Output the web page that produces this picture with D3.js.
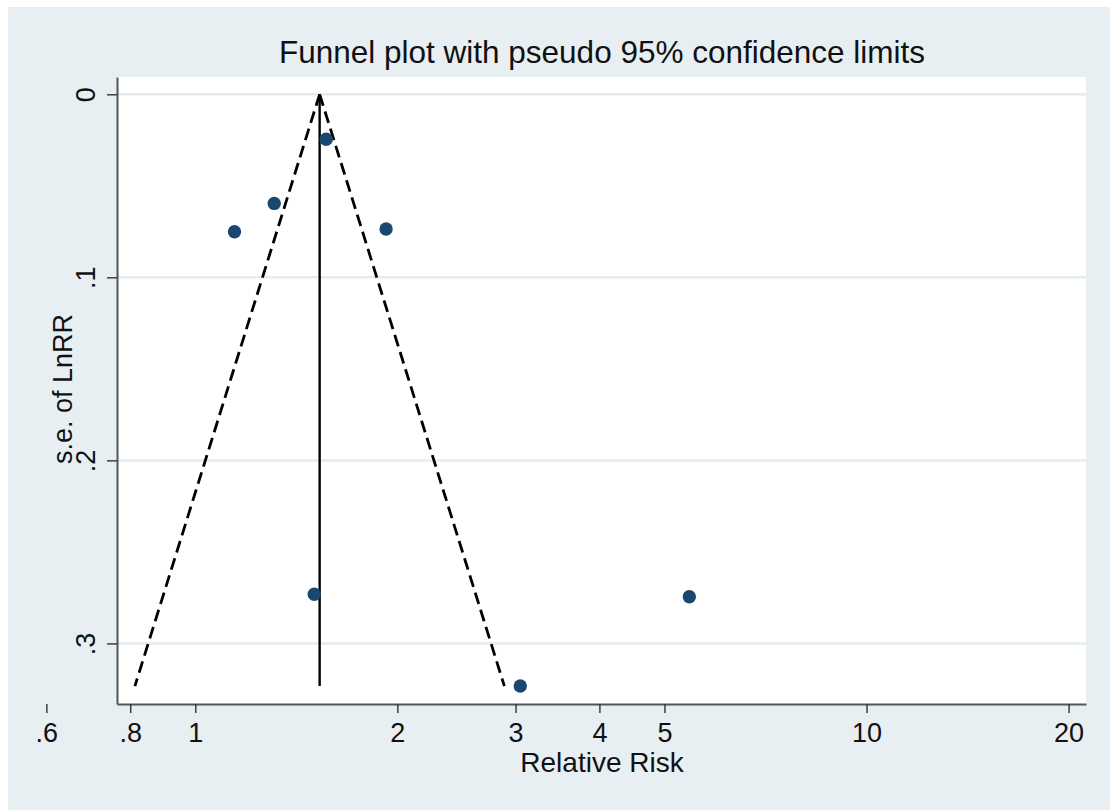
<!DOCTYPE html>
<html>
<head>
<meta charset="utf-8">
<script src="https://cdn.jsdelivr.net/npm/d3@7"></script>
<style>
  html, body { margin: 0; padding: 0; background: #ffffff; }
  svg { display: block; }
  text { font-family: "Liberation Sans", Arial, sans-serif; fill: #111; }
</style>
</head>
<body>
<svg id="chart" width="1110" height="810"></svg>
<script>
// Study estimates: relative risk and standard error of ln(RR)
const studyRR = [1.144, 1.311, 1.567, 1.924, 1.504, 5.445, 3.049];
const studySE = [0.0751, 0.0596, 0.0246, 0.0736, 0.2731, 0.2745, 0.3233];

// Pooled estimate and pseudo 95% limits
const pooledRR = 1.532;
const zValue = 1.96;

// Axis ticks
const xTickValues = [0.6, 0.8, 1, 2, 3, 4, 5, 10, 20];
const xTickLabels = [".6", ".8", "1", "2", "3", "4", "5", "10", "20"];
const yTickValues = [0, 0.1, 0.2, 0.3];
const yTickLabels = ["0", ".1", ".2", ".3"];

const titleText = "Funnel plot with pseudo 95% confidence limits";
const xTitle = "Relative Risk";
const yTitle = "s.e. of LnRR";

const svg = d3.select("#chart");
const W = 1110, H = 810;
const plot = { left: 117, right: 1086, top: 77, bottom: 704 };

// outer graph region
svg.append("rect").attr("x", 8).attr("y", 7).attr("width", W - 8).attr("height", H - 7)
  .attr("fill", "#e8eff2");
// plot region
svg.append("rect").attr("x", plot.left).attr("y", plot.top)
  .attr("width", plot.right - plot.left).attr("height", plot.bottom - plot.top)
  .attr("fill", "#ffffff");

const x = d3.scaleLog().domain([0.7645, 21.23]).range([plot.left, plot.right]);
const y = d3.scaleLinear().domain([-0.00945, 0.3331]).range([plot.top, plot.bottom]);

// horizontal grid lines
svg.append("g").selectAll("line").data(yTickValues).join("line")
  .attr("x1", plot.left).attr("x2", plot.right)
  .attr("y1", d => y(d)).attr("y2", d => y(d))
  .attr("stroke", "#e3ecf0").attr("stroke-width", 2.5);

// funnel limits
const seMax = d3.max(studySE);
const lnP = Math.log(pooledRR);
const leftLimit = [[pooledRR, 0], [Math.exp(lnP - zValue * seMax), seMax]];
const rightLimit = [[pooledRR, 0], [Math.exp(lnP + zValue * seMax), seMax]];
const line = d3.line().x(d => x(d[0])).y(d => y(d[1]));

[leftLimit, rightLimit].forEach(seg => {
  svg.append("path").attr("d", line(seg))
    .attr("fill", "none").attr("stroke", "#000").attr("stroke-width", 2.8)
    .attr("stroke-dasharray", "12,6");
});

// pooled estimate line
svg.append("path").attr("d", line([[pooledRR, 0], [pooledRR, seMax]]))
  .attr("fill", "none").attr("stroke", "#000").attr("stroke-width", 2.4);

// study points
svg.append("g").selectAll("circle").data(studyRR).join("circle")
  .attr("cx", d => x(d)).attr("cy", (d, i) => y(studySE[i]))
  .attr("r", 6.7).attr("fill", "#1a476f");

// x axis
const xAxis = d3.axisBottom(x).tickValues(xTickValues)
  .tickFormat((d, i) => xTickLabels[i]).tickSizeInner(9).tickSizeOuter(0).tickPadding(10);
const gx = svg.append("g").attr("transform", `translate(0,${plot.bottom})`).call(xAxis);
gx.select(".domain").attr("stroke", "#555").attr("stroke-width", 2);
gx.selectAll(".tick line").attr("stroke", "#333").attr("stroke-width", 1.4);
gx.selectAll(".tick text").attr("font-size", 27).attr("fill", "#111")
  .attr("font-family", "Liberation Sans, Arial, sans-serif");

// y axis
const yAxis = d3.axisLeft(y).tickValues(yTickValues)
  .tickFormat((d, i) => yTickLabels[i]).tickSizeInner(10).tickSizeOuter(0).tickPadding(12);
const gy = svg.append("g").attr("transform", `translate(${plot.left},0)`).call(yAxis);
gy.select(".domain").attr("stroke", "#555").attr("stroke-width", 2);
gy.selectAll(".tick line").attr("stroke", "#333").attr("stroke-width", 1.4);
gy.selectAll(".tick text")
  .attr("font-size", 27).attr("fill", "#111")
  .attr("font-family", "Liberation Sans, Arial, sans-serif")
  .attr("text-anchor", "middle").attr("dy", 0).attr("x", 0)
  .attr("transform", "translate(-22,0) rotate(-90)");

// titles
svg.append("text").attr("x", 602).attr("y", 63).attr("text-anchor", "middle")
  .attr("font-size", 31.5).text(titleText);
svg.append("text").attr("x", 602).attr("y", 772).attr("text-anchor", "middle")
  .attr("font-size", 28).text(xTitle);
svg.append("text").attr("transform", "translate(72,389) rotate(-90)")
  .attr("text-anchor", "middle").attr("font-size", 27).text(yTitle);
</script>
</body>
</html>
